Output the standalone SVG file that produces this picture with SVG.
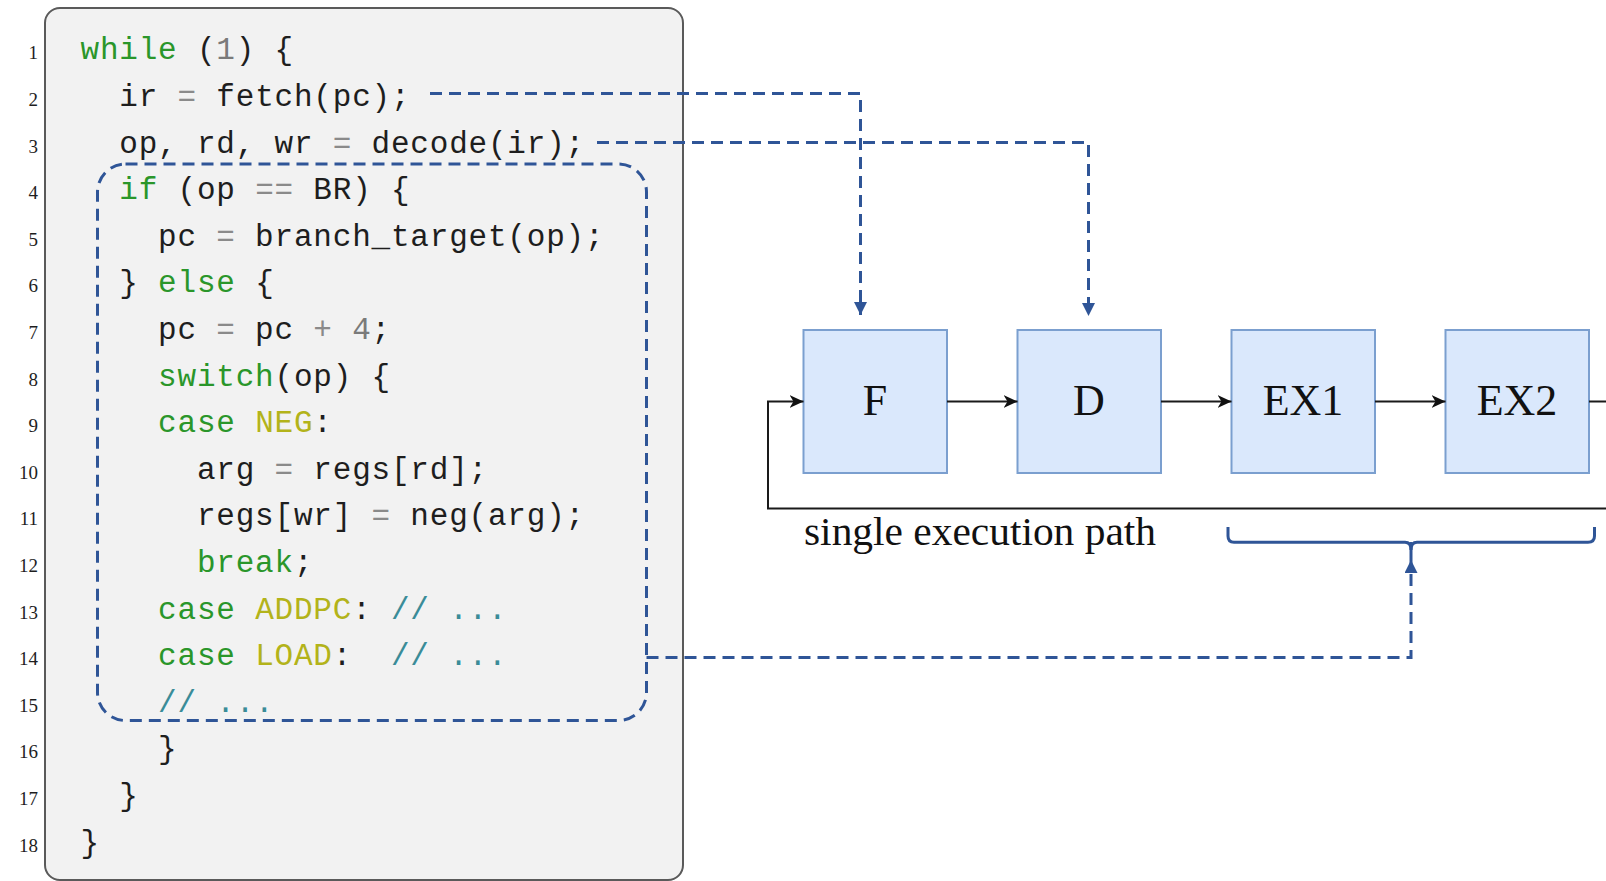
<svg xmlns="http://www.w3.org/2000/svg" width="1606" height="881" viewBox="0 0 1606 881">
<style>
.code{font-family:"Liberation Mono",monospace;font-size:31px;letter-spacing:0.8px;fill:#1e1e1e;white-space:pre}
.kw{fill:#2a962a}
.op{fill:#8a8a8a}
.num{fill:#7a7a7a}
.cst{fill:#b3b31a}
.cm{fill:#3a8c98}
.ln{font-family:"Liberation Serif",serif;font-size:19px;fill:#1e1e1e;text-anchor:end}
.box{fill:#dae8fc;stroke:#7b9fcf;stroke-width:2}
.lbl{font-family:"Liberation Serif",serif;font-size:44px;fill:#111;text-anchor:middle}
.blk{fill:none;stroke:#1a1a1a;stroke-width:2}
.dash{fill:none;stroke:#2f5597;stroke-width:3;stroke-dasharray:12 7}
</style>
<defs>
<marker id="ab" markerUnits="userSpaceOnUse" markerWidth="14" markerHeight="14" refX="13" refY="6.5" orient="auto">
<path d="M0,0 L13,6.5 L0,13 z" fill="#2f5597"/>
</marker>
<marker id="ak" markerUnits="userSpaceOnUse" markerWidth="16" markerHeight="14" refX="14" refY="6.5" orient="auto">
<path d="M0,0 L14,6.5 L0,13 L4,6.5 z" fill="#111"/>
</marker>
</defs>

<g id="code-block">
<rect x="45" y="8" width="638" height="872" rx="15" fill="#f2f2f2" stroke="#5a5a5a" stroke-width="2"/>
<g id="line-numbers">
<text class="ln" x="38" y="59.3">1</text>
<text class="ln" x="38" y="105.9">2</text>
<text class="ln" x="38" y="152.5">3</text>
<text class="ln" x="38" y="199.1">4</text>
<text class="ln" x="38" y="245.7">5</text>
<text class="ln" x="38" y="292.3">6</text>
<text class="ln" x="38" y="338.9">7</text>
<text class="ln" x="38" y="385.5">8</text>
<text class="ln" x="38" y="432.1">9</text>
<text class="ln" x="38" y="478.7">10</text>
<text class="ln" x="38" y="525.3">11</text>
<text class="ln" x="38" y="571.9">12</text>
<text class="ln" x="38" y="618.5">13</text>
<text class="ln" x="38" y="665.1">14</text>
<text class="ln" x="38" y="711.7">15</text>
<text class="ln" x="38" y="758.3">16</text>
<text class="ln" x="38" y="804.9">17</text>
<text class="ln" x="38" y="851.5">18</text>
</g>
<g id="code-lines" xml:space="preserve">
<text class="code" x="80.5" y="59.3"><tspan class="kw">while</tspan> (<tspan class="num">1</tspan>) {</text>
<text class="code" x="119.3" y="105.9">ir <tspan class="op">=</tspan> fetch(pc);</text>
<text class="code" x="119.3" y="152.5">op, rd, wr <tspan class="op">=</tspan> decode(ir);</text>
<text class="code" x="119.3" y="199.1"><tspan class="kw">if</tspan> (op <tspan class="op">==</tspan> BR) {</text>
<text class="code" x="158.1" y="245.7">pc <tspan class="op">=</tspan> branch_target(op);</text>
<text class="code" x="119.3" y="292.3">} <tspan class="kw">else</tspan> {</text>
<text class="code" x="158.1" y="338.9">pc <tspan class="op">=</tspan> pc <tspan class="op">+</tspan> <tspan class="num">4</tspan>;</text>
<text class="code" x="158.1" y="385.5"><tspan class="kw">switch</tspan>(op) {</text>
<text class="code" x="158.1" y="432.1"><tspan class="kw">case</tspan> <tspan class="cst">NEG</tspan>:</text>
<text class="code" x="196.9" y="478.7">arg <tspan class="op">=</tspan> regs[rd];</text>
<text class="code" x="196.9" y="525.3">regs[wr] <tspan class="op">=</tspan> neg(arg);</text>
<text class="code" x="196.9" y="571.9"><tspan class="kw">break</tspan>;</text>
<text class="code" x="158.1" y="618.5"><tspan class="kw">case</tspan> <tspan class="cst">ADDPC</tspan>: <tspan class="cm">// ...</tspan></text>
<text class="code" x="158.1" y="665.1"><tspan class="kw">case</tspan> <tspan class="cst">LOAD</tspan>:  <tspan class="cm">// ...</tspan></text>
<text class="code" x="158.1" y="711.7"><tspan class="cm">// ...</tspan></text>
<text class="code" x="158.1" y="758.3">}</text>
<text class="code" x="119.3" y="804.9">}</text>
<text class="code" x="80.5" y="851.5">}</text>
</g>
<rect id="loop-body" class="dash" x="97.5" y="164" width="549" height="556.5" rx="28"/>
</g>

<g id="node-F"><rect class="box" x="803.5" y="330" width="143.5" height="143"/><text class="lbl" x="875" y="415">F</text></g>
<g id="node-D"><rect class="box" x="1017.5" y="330" width="143.5" height="143"/><text class="lbl" x="1089" y="415">D</text></g>
<g id="node-EX1"><rect class="box" x="1231.5" y="330" width="143.5" height="143"/><text class="lbl" x="1303" y="415">EX1</text></g>
<g id="node-EX2"><rect class="box" x="1445.5" y="330" width="143.5" height="143"/><text class="lbl" x="1517" y="415">EX2</text></g>

<g id="label-path"><text x="804" y="545" font-family="Liberation Serif, serif" font-size="41" fill="#111" textLength="352" lengthAdjust="spacingAndGlyphs">single execution path</text></g>

<g id="connectors">
<path class="blk" d="M947,401.5 L1017.5,401.5" marker-end="url(#ak)"/>
<path class="blk" d="M1161,401.5 L1231.5,401.5" marker-end="url(#ak)"/>
<path class="blk" d="M1375,401.5 L1445.5,401.5" marker-end="url(#ak)"/>
<path class="blk" d="M1589,401.5 L1606,401.5"/>
<path class="blk" d="M1606,508.5 L768,508.5 L768,401.5 L803.5,401.5" marker-end="url(#ak)"/>
<path class="dash" d="M430,93.5 L860.5,93.5 L860.5,315" marker-end="url(#ab)"/>
<path class="dash" d="M597,142.5 L1088.5,142.5 L1088.5,316" marker-end="url(#ab)"/>
<path class="dash" d="M646.5,657.5 L1411,657.5 L1411,560" marker-end="url(#ab)"/>
<path id="brace" d="M1228,527 L1228,536 Q1228,542.3 1234,542.3 L1405,542.3 Q1411,542.3 1411,550 Q1411,542.3 1417,542.3 L1588,542.3 Q1594.5,542.3 1594.5,536 L1594.5,527" fill="none" stroke="#2f5597" stroke-width="3"/>
<path d="M1411,542 L1411,560" stroke="#2f5597" stroke-width="3"/>
</g>
</svg>
